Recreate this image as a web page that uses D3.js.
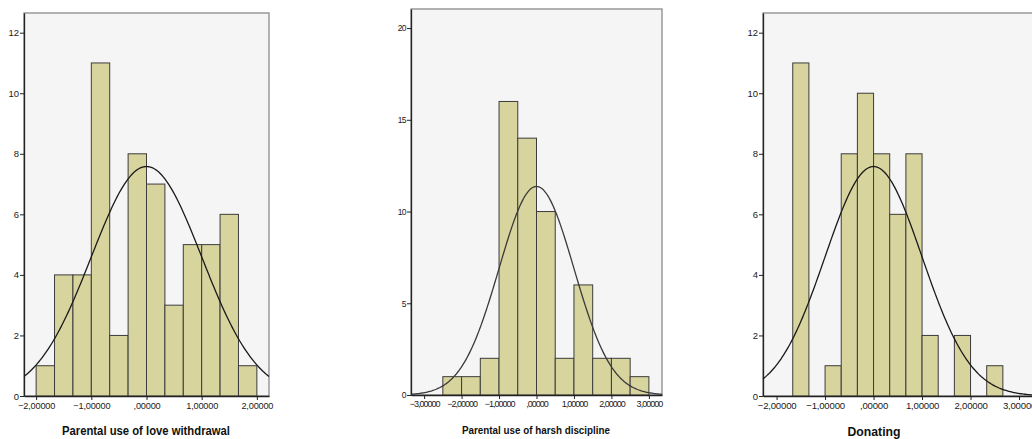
<!DOCTYPE html>
<html>
<head>
<meta charset="utf-8">
<script src="https://cdn.jsdelivr.net/npm/d3@7"></script>
<style>
  body { margin: 0; background: #fff; }
  svg { display: block; font-family: "Liberation Sans", Arial, sans-serif; }
</style>
</head>
<body>
<script>
// histogram data (counts per bin)
var titles = ["Parental use of love withdrawal", "Parental use of harsh discipline", "Donating"];
var binStarts = [-2, -2.5, -5 / 3];
var binWidths = [1 / 3, 0.5, 1 / 3];
var counts1 = [1, 4, 4, 11, 2, 8, 7, 3, 5, 5, 6, 1];
var counts2 = [1, 1, 2, 16, 14, 10, 2, 6, 2, 2, 1];
var counts3 = [11, 0, 1, 8, 10, 8, 6, 8, 2, 0, 2, 0, 1];
var counts = [counts1, counts2, counts3];

// normal curve parameters (standardised scores)
var means = [0, 0, 0];
var sds = [1, 1, 1];

// tick labels
var xTicks1 = [-2, -1, 0, 1, 2];
var xTicks2 = [-3, -2, -1, 0, 1, 2, 3];
var xTicks3 = [-2, -1, 0, 1, 2, 3];
var yTicks1 = [0, 2, 4, 6, 8, 10, 12];
var yTicks2 = [0, 5, 10, 15, 20];
var yTicks3 = [0, 2, 4, 6, 8, 10, 12];

// layout of the three panels
var panels = [
  { left: 24, right: 269, top: 13, bottom: 396, xDom: [-2.22, 2.22], yDom: [0, 12.65],
    xTicks: xTicks1, yTicks: yTicks1, tickFont: 9.2, yFont: 9.5, tickSpacing: -0.2, titleX: 146, titleY: 435, titleLen: 168, titleSize: 12 },
  { left: 411, right: 662, top: 9, bottom: 395, xDom: [-3.35, 3.35], yDom: [0, 21.04],
    xTicks: xTicks2, yTicks: yTicks2, tickFont: 9, yFont: 8.5, tickSpacing: -1, titleX: 536, titleY: 434, titleLen: 148, titleSize: 11.5 },
  { left: 763, right: 1036, top: 13, bottom: 396, xDom: [-2.28, 3.35], yDom: [0, 12.65],
    xTicks: xTicks3, yTicks: yTicks3, tickFont: 9.6, yFont: 9.5, tickSpacing: -0.2, titleX: 874, titleY: 436, titleLen: 53, titleSize: 12.5 }
];

var w = 1032, h = 439;

var svg = d3.select("body").append("svg")
  .attr("width", w)
  .attr("height", h);

function fmt(v) {
  // SPSS style: comma decimal, no leading zero
  var s = d3.format(".5f")(v).replace(".", ",");
  return s.replace(/^0,/, ",").replace(/^-0,/, "-,");
}

panels.forEach(function(p, k) {
  var x = d3.scaleLinear().domain(p.xDom).range([p.left, p.right]);
  var y = d3.scaleLinear().domain(p.yDom).range([p.bottom, p.top]);

  var g = svg.append("g");

  // plot background + frame
  g.append("rect")
    .attr("x", p.left)
    .attr("y", p.top)
    .attr("width", p.right - p.left)
    .attr("height", p.bottom - p.top)
    .attr("fill", "#f5f5f5")
    .attr("stroke", "#8a8a8a")
    .attr("stroke-width", 1.3);

  // bars
  var bins = counts[k].map(function(c, i) {
    return { x0: binStarts[k] + i * binWidths[k], x1: binStarts[k] + (i + 1) * binWidths[k], n: c };
  }).filter(function(d) { return d.n > 0; });

  g.selectAll(".bar")
    .data(bins)
    .enter()
    .append("rect")
    .attr("class", "bar")
    .attr("x", function(d) { return x(d.x0); })
    .attr("y", function(d) { return y(d.n); })
    .attr("width", function(d) { return x(d.x1) - x(d.x0); })
    .attr("height", function(d) { return y(0) - y(d.n); })
    .attr("fill", "#d8d49e")
    .attr("stroke", "#3c3c3c")
    .attr("stroke-width", 1);

  // fitted normal curve
  var total = d3.sum(counts[k]);
  var scale = total * binWidths[k] / (sds[k] * Math.sqrt(2 * Math.PI));
  var xs = d3.range(0, 201).map(function(i) { return p.xDom[0] + (p.xDom[1] - p.xDom[0]) * i / 200; });
  var line = d3.line()
    .x(function(v) { return x(v); })
    .y(function(v) {
      var z = (v - means[k]) / sds[k];
      return y(scale * Math.exp(-0.5 * z * z));
    });

  g.append("path")
    .datum(xs)
    .attr("d", line)
    .attr("fill", "none")
    .attr("stroke", k === 1 ? "#3a3a3a" : "#1a1a1a")
    .attr("stroke-width", 1.3);

  // axes
  var xAxis = g.append("g")
    .attr("transform", "translate(0," + p.bottom + ")")
    .call(d3.axisBottom(x).tickValues(p.xTicks).tickFormat(fmt).tickSize(4).tickSizeOuter(0).tickPadding(2));

  var yAxis = g.append("g")
    .attr("transform", "translate(" + p.left + ",0)")
    .call(d3.axisLeft(y).tickValues(p.yTicks).tickFormat(d3.format("d")).tickSize(4).tickSizeOuter(0).tickPadding(1));

  [xAxis, yAxis].forEach(function(a, j) {
    a.select(".domain").attr("stroke", "#222").attr("stroke-width", 1.3);
    a.selectAll(".tick line").attr("stroke", "#222");
    a.selectAll("text")
      .attr("fill", "#1a1a1a")
      .style("font-size", (j === 0 ? p.tickFont : p.yFont) + "px")
      .style("letter-spacing", (j === 0 ? p.tickSpacing : (k === 1 ? -0.6 : 0)) + "px")
      .style("font-family", "'Liberation Sans', Arial, sans-serif");
  });

  // axis title
  svg.append("text")
    .attr("x", p.titleX)
    .attr("y", p.titleY)
    .attr("text-anchor", "middle")
    .attr("textLength", p.titleLen)
    .attr("lengthAdjust", "spacingAndGlyphs")
    .style("font-size", p.titleSize + "px")
    .style("font-weight", "bold")
    .attr("fill", "#111")
    .text(titles[k]);
});
</script>
</body>
</html>
